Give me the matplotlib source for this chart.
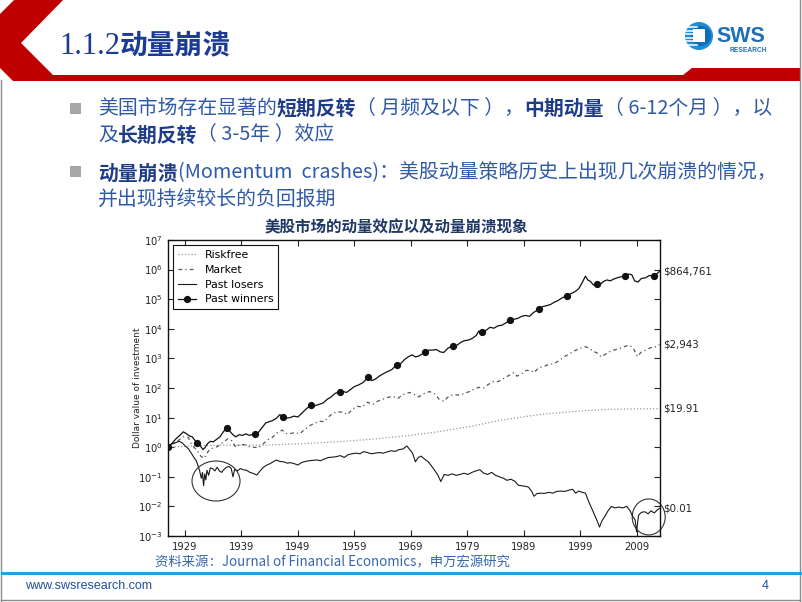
import matplotlib
matplotlib.use("Agg")
import matplotlib.pyplot as plt
from matplotlib.patches import Polygon, Rectangle, Ellipse, Circle
from matplotlib.transforms import ScaledTranslation

# ── Data (dollar value of $1 invested) ────────────────────────────────────────
rf_year = [1926.0, 1932, 1938, 1944, 1950, 1956, 1962, 1968, 1974, 1980, 1984,
           1988, 1992, 1996, 2000, 2004, 2008, 2013.0]
rf_val = [1.00, 1.15, 1.17, 1.19, 1.32, 1.52, 1.86, 2.40, 3.35, 5.2, 7.6,
          10.0, 12.8, 15.0, 17.4, 18.9, 19.7, 19.91]

mkt_year = [1926.0, 1927.0, 1928.0, 1928.7, 1929.6, 1930.0, 1930.6, 1931.2, 1931.8, 1932.4,
            1932.9, 1933.5, 1934.2, 1935.0, 1935.8, 1936.6, 1937.3, 1938.0, 1938.8, 1939.6,
            1940.4, 1941.2, 1942.0, 1942.8, 1943.6, 1944.4, 1945.3, 1946.2, 1946.9, 1947.7,
            1948.5, 1949.3, 1950.2, 1951.0, 1951.9, 1952.8, 1953.6, 1954.4, 1955.2, 1956.1,
            1957.0, 1957.8, 1958.6, 1959.5, 1960.4, 1961.3, 1962.3, 1963.1, 1964.0, 1964.9,
            1965.8, 1966.7, 1967.6, 1968.8, 1969.6, 1970.4, 1971.2, 1972.3, 1973.2, 1974.0,
            1974.8, 1975.6, 1976.5, 1977.4, 1978.3, 1979.2, 1980.1, 1981.0, 1981.9, 1982.7,
            1983.6, 1984.5, 1985.4, 1986.3, 1987.2, 1987.8, 1988.6, 1989.5, 1990.4, 1990.8,
            1991.6, 1992.5, 1993.4, 1994.3, 1995.2, 1996.1, 1997.0, 1997.9, 1998.8, 1999.8,
            2000.4, 2001.2, 2002.0, 2002.7, 2003.5, 2004.4, 2005.3, 2006.2, 2007.1, 2007.8,
            2008.5, 2009.1, 2009.8, 2010.6, 2011.4, 2012.2, 2013.0]
mkt_val = [1.00, 1.35, 1.78, 2.24, 2.14, 1.41, 1.00, 0.76, 0.50, 0.42,
           0.63, 0.89, 0.95, 1.12, 1.51, 1.91, 1.66, 1.00, 1.26, 1.20,
           1.05, 1.00, 0.95, 1.26, 1.78, 2.09, 3.02, 3.80, 2.88, 2.88,
           3.16, 2.82, 3.98, 5.25, 6.31, 7.59, 7.24, 10.5, 14.1, 15.8,
           15.1, 12.6, 19.1, 24.0, 22.9, 33.1, 28.2, 35.5, 41.7, 47.9,
           52.5, 44.7, 60.3, 70.8, 60.3, 50.1, 63.1, 75.9, 63.1, 41.7,
           35.5, 50.1, 60.3, 57.5, 63.1, 74.1, 89.1, 105, 100, 132,
           166, 166, 209, 263, 331, 251, 302, 398, 380, 331,
           479, 525, 631, 661, 832, 1122, 1413, 1778, 2138, 2512,
           2291, 1778, 1514, 1122, 1413, 1778, 1995, 2239, 2630, 2754,
           1995, 1148, 1660, 1905, 2291, 2399, 2943]

los_year = [1926.0, 1926.6, 1927.3, 1928.0, 1928.5, 1929.0, 1929.6, 1930.1, 1930.6, 1931.0,
            1931.3, 1931.6, 1931.9, 1932.1, 1932.3, 1932.5, 1932.7, 1932.9, 1933.2, 1933.5,
            1933.9, 1934.3, 1934.7, 1935.1, 1935.5, 1935.9, 1936.4, 1936.8, 1937.2, 1937.5,
            1937.8, 1938.3, 1938.8, 1939.3, 1939.9, 1940.5, 1941.0, 1941.7, 1942.3, 1942.9,
            1943.5, 1944.1, 1944.7, 1945.2, 1945.8, 1946.5, 1947.1, 1947.7, 1948.3, 1949.0,
            1949.6, 1950.3, 1951.0, 1951.7, 1952.3, 1953.0, 1953.7, 1954.4, 1955.1, 1955.8,
            1956.5, 1957.2, 1957.9, 1958.6, 1959.3, 1960.0, 1960.6, 1961.3, 1962.0, 1962.7,
            1963.4, 1964.1, 1964.8, 1965.5, 1966.2, 1966.9, 1967.6, 1968.3, 1968.8, 1969.3,
            1969.8, 1970.3, 1970.8, 1971.4, 1972.0, 1972.6, 1973.2, 1973.8, 1974.3, 1974.9,
            1975.6, 1976.3, 1977.0, 1977.7, 1978.4, 1979.1, 1979.8, 1980.5, 1981.2, 1981.9,
            1982.6, 1983.3, 1984.0, 1984.7, 1985.4, 1986.0, 1986.7, 1987.4, 1988.0, 1988.6,
            1989.2, 1989.8, 1990.4, 1990.8, 1991.3, 1992.0, 1992.7, 1993.4, 1994.1, 1994.8,
            1995.5, 1996.2, 1996.9, 1997.6, 1998.2, 1998.7, 1999.3, 1999.9, 2000.4, 2000.9,
            2001.4, 2001.9, 2002.4, 2002.8, 2003.3, 2003.9, 2004.5, 2005.1, 2005.8, 2006.5,
            2007.2, 2007.8, 2008.3, 2008.7, 2008.95, 2009.3, 2009.8, 2010.4, 2011.0, 2011.5,
            2012.1, 2012.6, 2013.0]
los_val = [1.00, 1.26, 1.41, 1.58, 1.41, 1.12, 0.89, 0.63, 0.45, 0.35,
           0.24, 0.16, 0.089, 0.14, 0.050, 0.126, 0.079, 0.166, 0.112, 0.20,
           0.19, 0.158, 0.21, 0.158, 0.141, 0.178, 0.21, 0.224, 0.19, 0.10,
           0.178, 0.158, 0.19, 0.174, 0.166, 0.141, 0.132, 0.115, 0.158, 0.21,
           0.25, 0.28, 0.33, 0.37, 0.33, 0.32, 0.29, 0.30, 0.28, 0.25,
           0.30, 0.33, 0.35, 0.36, 0.37, 0.35, 0.40, 0.45, 0.46, 0.48,
           0.52, 0.45, 0.56, 0.60, 0.63, 0.60, 0.71, 0.66, 0.60, 0.63,
           0.66, 0.63, 0.69, 0.76, 0.72, 0.83, 0.87, 1.10, 0.83, 0.63,
           0.32, 0.45, 0.50, 0.40, 0.33, 0.24, 0.166, 0.112, 0.069, 0.12,
           0.112, 0.126, 0.112, 0.12, 0.132, 0.12, 0.141, 0.158, 0.174, 0.132,
           0.12, 0.141, 0.112, 0.10, 0.089, 0.076, 0.083, 0.071, 0.052, 0.050,
           0.048, 0.045, 0.032, 0.022, 0.027, 0.028, 0.0275, 0.030, 0.028, 0.032,
           0.033, 0.032, 0.035, 0.038, 0.028, 0.033, 0.030, 0.028, 0.0158, 0.0095,
           0.0056, 0.0035, 0.0020, 0.0032, 0.0045, 0.0071, 0.0100, 0.0089, 0.0095, 0.0089,
           0.0100, 0.0071, 0.0045, 0.0035, 0.0014, 0.0050, 0.0063, 0.0066, 0.0056, 0.0071,
           0.0060, 0.0076, 0.0085]

win_year = [1926.0, 1926.8, 1927.5, 1928.2, 1928.7, 1929.3, 1929.8, 1930.3, 1930.8, 1931.2,
            1931.7, 1932.2, 1932.6, 1933.0, 1933.5, 1934.0, 1934.5, 1935.2, 1935.8, 1936.4,
            1936.9, 1937.5, 1938.0, 1938.6, 1939.2, 1939.8, 1940.4, 1941.0, 1941.4, 1942.0,
            1942.6, 1943.3, 1943.9, 1944.5, 1945.2, 1945.8, 1946.4, 1946.9, 1947.6, 1948.3,
            1949.0, 1949.7, 1950.5, 1951.4, 1952.0, 1952.8, 1953.5, 1954.2, 1954.9, 1955.6,
            1956.4, 1957.0, 1957.6, 1958.3, 1959.0, 1959.7, 1960.5, 1961.4, 1962.1, 1962.7,
            1963.4, 1964.1, 1964.8, 1965.6, 1966.5, 1967.1, 1967.8, 1968.5, 1969.2, 1969.8,
            1970.4, 1971.0, 1971.5, 1972.2, 1972.9, 1973.5, 1974.2, 1974.8, 1975.6, 1976.5,
            1977.2, 1977.9, 1978.5, 1979.2, 1979.9, 1980.6, 1981.0, 1981.6, 1982.3, 1983.0,
            1983.7, 1984.4, 1985.1, 1985.8, 1986.6, 1987.2, 1987.9, 1988.6, 1989.3, 1990.0,
            1990.7, 1991.7, 1992.3, 1993.0, 1993.7, 1994.4, 1995.0, 1995.8, 1996.7, 1997.3,
            1998.0, 1998.7, 1999.3, 1999.9, 2000.3, 2000.8, 2001.3, 2001.9, 2002.5, 2003.1,
            2003.7, 2004.3, 2004.9, 2005.5, 2006.2, 2006.9, 2007.5, 2008.1, 2008.6, 2009.2,
            2009.8, 2010.5, 2011.2, 2012.0, 2012.5, 2013.0]
win_val = [1.00, 1.41, 2.00, 2.63, 3.31, 2.82, 2.40, 2.24, 1.66, 1.35,
           1.12, 0.83, 1.00, 1.32, 1.58, 1.51, 1.78, 2.24, 3.31, 4.57,
           3.55, 2.63, 2.24, 2.63, 2.51, 2.82, 2.51, 2.69, 2.75, 3.16,
           4.47, 6.61, 7.24, 7.94, 9.55, 12.6, 10.7, 9.55, 10.0, 11.2,
           10.5, 14.1, 20.0, 26.9, 25.1, 28.2, 31.6, 41.7, 50.1, 66.1,
           74.1, 75.9, 70.8, 89.1, 112, 126, 151, 229, 178, 200,
           251, 302, 355, 417, 603, 631, 891, 1122, 1318, 1122,
           1202, 1413, 1698, 1905, 1905, 1995, 1660, 1585, 2239, 2692,
           2818, 3548, 3981, 4169, 4786, 6026, 8318, 7586, 8913, 11220,
           10470, 12590, 13180, 15850, 19500, 20900, 22400, 26300, 28200, 26300,
           35500, 45700, 56200, 60300, 66100, 79400, 89100, 112000, 132000, 151000,
           178000, 224000, 355000, 603000, 447000, 398000, 302000, 324000, 316000, 398000,
           447000, 417000, 479000, 525000, 575000, 589000, 708000, 676000, 417000, 380000,
           501000, 525000, 631000, 603000, 708000, 864761]
win_mark_years = [1926.0, 1931.2, 1936.4, 1941.4, 1946.4, 1951.4, 1956.4, 1961.4, 1966.5,
                  1971.5, 1976.5, 1981.6, 1986.6, 1991.7, 1996.7, 2001.9, 2006.9, 2012.0]

end_labels = ["$864,761", "$2,943", "$19.91", "$0.01"]
end_values = [win_val[-1], mkt_val[-1], rf_val[-1], los_val[-1]]
year_ticks = [1929, 1939, 1949, 1959, 1969, 1979, 1989, 1999, 2009]
crash_years = [1934.5, 2011.1]
crash_vals = [0.072, 0.0044]

# ── Slide text ───────────────────────────────────────────────────────────────
CJK = ["Noto Sans CJK SC", "DejaVu Sans"]
REG_C, BOLD_C = "#2f5aa8", "#1f3c88"
bullet_lines = [
    [("美国市场存在显著的", False), ("短期反转", True), ("（ 月频及以下 ），", False),
     ("中期动量", True), ("（ 6-12个月 ），以", False)],
    [("及", False), ("长期反转", True), ("（ 3-5年 ）效应", False)],
    [("动量崩溃", True), ("(Momentum  crashes)：美股动量策略历史上出现几次崩溃的情况，", False)],
    [("并出现持续较长的负回报期", False)],
]
line_y = [108, 135, 173, 200]

fig = plt.figure(figsize=(8.02, 6.02), dpi=100)
fig.patch.set_facecolor("white")

# background axes in pixel units (y down) for slide decoration
bg = fig.add_axes([0, 0, 1, 1], zorder=0)
bg.set_xlim(0, 802); bg.set_ylim(602, 0); bg.axis("off")

red = "#c00000"
bg.add_patch(Polygon([(14, 0), (63, 0), (21, 43), (53, 75), (800, 75), (800, 81),
                      (13, 81), (0, 68), (0, 14)], closed=True, fc=red, ec="none"))
bg.add_patch(Polygon([(683, 75), (692, 68), (800, 68), (800, 75)], closed=True, fc=red, ec="none"))
# slide frame
bg.plot([1, 1], [80, 601], color="#8c8c8c", lw=1)
bg.plot([800, 800], [0, 601], color="#8c8c8c", lw=1)
bg.plot([1, 800], [600, 600], color="#8c8c8c", lw=1)

# logo
bg.add_patch(Circle((699, 36), 14, fc="#1b8fd6", ec="none"))
bg.add_patch(Circle((701, 36), 10, fc="#0f6cb8", ec="none"))
for yy in [27, 30.5, 34, 37.5, 41, 44.5]:
    bg.plot([686, 697], [yy, yy], color="white", lw=1.1)
bg.add_patch(Rectangle((693, 29), 12, 13, fc="white", ec="none"))
bg.text(716, 36, "SWS", fontsize=15.5, weight="bold", color="#1d6fb8",
        family="Liberation Sans", va="center", ha="left")
bg.text(730, 51, "RESEARCH", fontsize=4.8, weight="bold", color="#1d6fb8",
        family="Liberation Sans", va="center", ha="left")

# title
r = fig.canvas.get_renderer()
t = bg.text(59, 46, "1.1.2", fontsize=22, color="#1c3c94", family="Liberation Serif",
            va="center", ha="left")
x = 59 + t.get_window_extent(r).width
bg.text(x, 46, "动量崩溃", fontsize=20, color="#1c3c94", family=CJK, weight="bold",
        va="center", ha="left")

# bullets
for by in [108.5, 171]:
    bg.add_patch(Rectangle((70, by - 5.5), 11, 11, fc="#a6a6a6", ec="none"))
for parts, yy in zip(bullet_lines, line_y):
    x = 98
    for s, bold in parts:
        t = bg.text(x, yy, s, fontsize=14.3, family=CJK, va="center", ha="left",
                    color=BOLD_C if bold else REG_C, weight="bold" if bold else "normal")
        x += t.get_window_extent(r).width

# chart title and source
bg.text(396, 227, "美股市场的动量效应以及动量崩溃现象", fontsize=11.2, weight="bold",
        color="#1f3864", family=CJK, va="center", ha="center")
bg.text(155, 562, "资料来源：Journal of Financial Economics，申万宏源研究", fontsize=9.6,
        color="#3366b0", family=CJK, va="center", ha="left")

# footer
bg.plot([2, 800], [573, 573], color="#23a3d8", lw=2.2)
bg.text(25, 586, "www.swsresearch.com", fontsize=9, color="#1f4e9a",
        family="Liberation Sans", va="center", ha="left")
bg.text(765, 586, "4", fontsize=9, color="#1f4e9a", family="Liberation Sans",
        va="center", ha="center")

# ── Chart ────────────────────────────────────────────────────────────────────
ax = fig.add_axes([168/802, (602-536)/602, (660-168)/802, (536-240)/602], zorder=1)
ax.set_facecolor("white")
ax.set_yscale("log")
ax.plot(rf_year, rf_val, color="#9a9a9a", lw=0.9, ls=(0, (1, 1.6)), label="Riskfree")
ax.plot(mkt_year, mkt_val, color="#555555", lw=0.9, ls=(0, (3, 2.5, 1, 2.5)), label="Market")
ax.plot(los_year, los_val, color="#1a1a1a", lw=0.8, label="Past losers")
marks = [win_year.index(v) for v in win_mark_years]
ax.plot(win_year, win_val, color="#111111", lw=0.9, marker="o", ms=4.2,
        markevery=marks, label="Past winners")

ax.set_xlim(1926.0, 2013.1)
ax.set_ylim(1e-3, 1e7)
ax.set_xticks(year_ticks)
ax.set_xticklabels([str(v) for v in year_ticks])
ax.set_yticks([10.0**k for k in range(-3, 8)])
ax.minorticks_off()
ax.tick_params(direction="in", top=True, right=True, length=4, width=0.8,
               labelsize=7.2, colors="#222222", pad=4)
for sp in ax.spines.values():
    sp.set_linewidth(1.0); sp.set_color("#111111")
ax.set_ylabel("Dollar value of investment", fontsize=6.5, color="#222222")
ax.yaxis.set_label_coords(-0.052, 0.5)

for lab, v in zip(end_labels, end_values):
    ax.text(1.006, v, lab, transform=ax.get_yaxis_transform(), fontsize=7.4,
            color="#222222", va="center", ha="left")

for (yr, v), (w, h) in zip(zip(crash_years, crash_vals), [(48, 40), (33, 36)]):
    tr = fig.dpi_scale_trans + ScaledTranslation(yr, v, ax.transData)
    ax.add_patch(Ellipse((0, 0), w/100, h/100, transform=tr, fill=False,
                         ec="#333333", lw=0.8, clip_on=False))

leg = ax.legend(loc="upper left", fontsize=7.8, fancybox=False, framealpha=1,
                edgecolor="#111111", handlelength=1.7, labelspacing=0.45,
                borderaxespad=0.5, handletextpad=0.8, borderpad=0.4)
leg.get_frame().set_linewidth(0.8)

fig.savefig("out.png", dpi=100)
